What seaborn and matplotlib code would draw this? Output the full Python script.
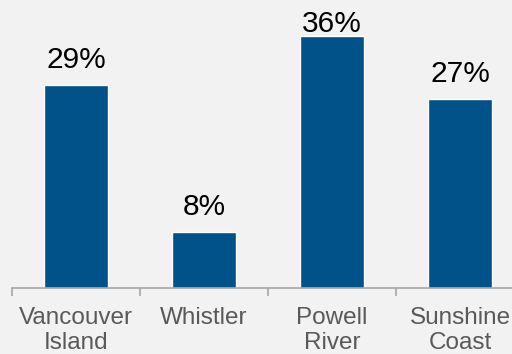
import matplotlib
matplotlib.use("Agg")
import matplotlib.pyplot as plt
import seaborn as sns
import pandas as pd

categories = ["Vancouver\nIsland", "Whistler", "Powell\nRiver", "Sunshine\nCoast"]
values = [29, 8, 36, 27]
value_labels = ["29%", "8%", "36%", "27%"]

sns.set_style("white")
plt.rcParams['font.family'] = ['Liberation Sans', 'DejaVu Sans']

bg = "#f2f2f2"
fig = plt.figure(figsize=(5.12, 3.54), dpi=100, facecolor=bg)
ax = fig.add_axes([12/512, 66.5/354, 512/512, 279.4/354])
ax.set_facecolor(bg)

df = pd.DataFrame({"cat": categories, "val": values})
sns.barplot(data=df, x="cat", y="val", color="#005288", saturation=1, width=0.5, ax=ax)

ax.set_xlim(-0.5, 3.5)
ax.set_ylim(0, 40)
ax.set_xlabel("")
ax.set_ylabel("")
ax.set_yticks([])
for s in ["top", "right", "left"]:
    ax.spines[s].set_visible(False)
ax.spines["bottom"].set_color("#a6a6a6")
ax.spines["bottom"].set_linewidth(1.2)

ax.set_xticks(range(len(categories)))
ax.set_xticklabels(categories, fontsize=17.5, color="#595959", linespacing=1.2)
ax.tick_params(axis="x", which="major", length=0, pad=14)
ax.set_xticks([i - 0.5 for i in range(len(categories) + 1)], minor=True)
ax.tick_params(axis="x", which="minor", bottom=True, length=6, width=1.2,
               color="#a6a6a6", direction="out")

pads_px = [17, 17, 4, 17]
for i, (v, lab) in enumerate(zip(values, value_labels)):
    ax.annotate(lab, (i, v), xytext=(0, pads_px[i] * 0.72), textcoords="offset points",
                ha="center", va="baseline", fontsize=21.5, color="black")

fig.savefig("out.png", dpi=100, facecolor=bg)
